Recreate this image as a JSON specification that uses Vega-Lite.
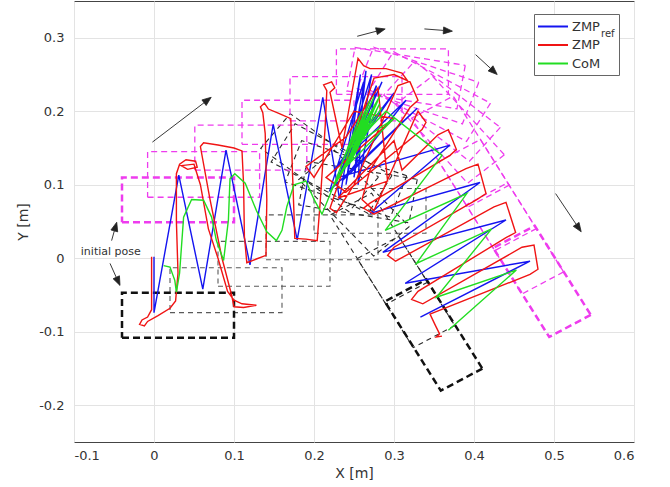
{
  "$schema": "https://vega.github.io/schema/vega-lite/v6.json",
  "width": 560,
  "height": 441,
  "autosize": {"type": "none"},
  "padding": {"left": 74, "top": 1, "right": 36, "bottom": 45},
  "background": "white",
  "config": {
    "font": "DejaVu Sans",
    "view": {"stroke": "#444444", "strokeWidth": 1},
    "axis": {"grid": true, "gridColor": "#e3e3e3", "gridWidth": 1, "domain": false, "ticks": false, "labelFontSize": 13, "labelColor": "#333333", "titleFontSize": 14, "titleFontWeight": "normal", "titleColor": "#333333"}
  },
  "datasets": {
    "feet": [
      {"f":"B1","foot":"R","pose":"end","o":0,"x":-0.04,"y":-0.108},{"f":"B1","foot":"R","pose":"end","o":1,"x":0.1,"y":-0.108},{"f":"B1","foot":"R","pose":"end","o":2,"x":0.1,"y":-0.047},{"f":"B1","foot":"R","pose":"end","o":3,"x":-0.04,"y":-0.047},{"f":"B1","foot":"R","pose":"end","o":4,"x":-0.04,"y":-0.108},
      {"f":"B2","foot":"R","pose":"step","o":0,"x":0.02,"y":-0.074},{"f":"B2","foot":"R","pose":"step","o":1,"x":0.16,"y":-0.074},{"f":"B2","foot":"R","pose":"step","o":2,"x":0.16,"y":-0.013},{"f":"B2","foot":"R","pose":"step","o":3,"x":0.02,"y":-0.013},{"f":"B2","foot":"R","pose":"step","o":4,"x":0.02,"y":-0.074},
      {"f":"B3","foot":"R","pose":"step","o":0,"x":0.08,"y":-0.038},{"f":"B3","foot":"R","pose":"step","o":1,"x":0.22,"y":-0.038},{"f":"B3","foot":"R","pose":"step","o":2,"x":0.22,"y":0.023},{"f":"B3","foot":"R","pose":"step","o":3,"x":0.08,"y":0.023},{"f":"B3","foot":"R","pose":"step","o":4,"x":0.08,"y":-0.038},
      {"f":"B4","foot":"R","pose":"step","o":0,"x":0.14,"y":-0.002},{"f":"B4","foot":"R","pose":"step","o":1,"x":0.28,"y":-0.002},{"f":"B4","foot":"R","pose":"step","o":2,"x":0.28,"y":0.059},{"f":"B4","foot":"R","pose":"step","o":3,"x":0.14,"y":0.059},{"f":"B4","foot":"R","pose":"step","o":4,"x":0.14,"y":-0.002},
      {"f":"B5","foot":"R","pose":"step","o":0,"x":0.2,"y":0.034},{"f":"B5","foot":"R","pose":"step","o":1,"x":0.34,"y":0.034},{"f":"B5","foot":"R","pose":"step","o":2,"x":0.34,"y":0.095},{"f":"B5","foot":"R","pose":"step","o":3,"x":0.2,"y":0.095},{"f":"B5","foot":"R","pose":"step","o":4,"x":0.2,"y":0.034},
      {"f":"B6","foot":"R","pose":"turn","o":0,"x":0.3291,"y":0.1074},{"f":"B6","foot":"R","pose":"turn","o":1,"x":0.3187,"y":0.0483},{"f":"B6","foot":"R","pose":"turn","o":2,"x":0.1809,"y":0.0726},{"f":"B6","foot":"R","pose":"turn","o":3,"x":0.1913,"y":0.1317},{"f":"B6","foot":"R","pose":"turn","o":4,"x":0.3291,"y":0.1074},
      {"f":"B7","foot":"R","pose":"turn","o":0,"x":0.316,"y":0.1123},{"f":"B7","foot":"R","pose":"turn","o":1,"x":0.2955,"y":0.0559},{"f":"B7","foot":"R","pose":"turn","o":2,"x":0.164,"y":0.1038},{"f":"B7","foot":"R","pose":"turn","o":3,"x":0.1845,"y":0.1601},{"f":"B7","foot":"R","pose":"turn","o":4,"x":0.316,"y":0.1123},
      {"f":"B8","foot":"R","pose":"turn","o":0,"x":0.2976,"y":0.113},{"f":"B8","foot":"R","pose":"turn","o":1,"x":0.2676,"y":0.061},{"f":"B8","foot":"R","pose":"turn","o":2,"x":0.1464,"y":0.131},{"f":"B8","foot":"R","pose":"turn","o":3,"x":0.1764,"y":0.183},{"f":"B8","foot":"R","pose":"turn","o":4,"x":0.2976,"y":0.113},
      {"f":"B9","foot":"R","pose":"turn","o":0,"x":0.2806,"y":0.1105},{"f":"B9","foot":"R","pose":"turn","o":1,"x":0.2437,"y":0.0633},{"f":"B9","foot":"R","pose":"turn","o":2,"x":0.1334,"y":0.1495},{"f":"B9","foot":"R","pose":"turn","o":3,"x":0.1703,"y":0.1967},{"f":"B9","foot":"R","pose":"turn","o":4,"x":0.2806,"y":0.1105},
      {"f":"B10","foot":"R","pose":"turn","o":0,"x":0.3191,"y":0.0431},{"f":"B10","foot":"R","pose":"turn","o":1,"x":0.2746,"y":0.0029},{"f":"B10","foot":"R","pose":"turn","o":2,"x":0.1809,"y":0.107},{"f":"B10","foot":"R","pose":"turn","o":3,"x":0.2255,"y":0.1471},{"f":"B10","foot":"R","pose":"turn","o":4,"x":0.3191,"y":0.0431},
      {"f":"B11","foot":"R","pose":"turn","o":0,"x":0.342,"y":-0.0326},{"f":"B11","foot":"R","pose":"turn","o":1,"x":0.29,"y":-0.0626},{"f":"B11","foot":"R","pose":"turn","o":2,"x":0.22,"y":0.0586},{"f":"B11","foot":"R","pose":"turn","o":3,"x":0.272,"y":0.0886},{"f":"B11","foot":"R","pose":"turn","o":4,"x":0.342,"y":-0.0326},
      {"f":"B12","foot":"R","pose":"turn","o":0,"x":0.376,"y":-0.0916},{"f":"B12","foot":"R","pose":"turn","o":1,"x":0.324,"y":-0.1216},{"f":"B12","foot":"R","pose":"turn","o":2,"x":0.254,"y":-0.0004},{"f":"B12","foot":"R","pose":"turn","o":3,"x":0.306,"y":0.0296},{"f":"B12","foot":"R","pose":"turn","o":4,"x":0.376,"y":-0.0916},
      {"f":"B13","foot":"R","pose":"end","o":0,"x":0.4105,"y":-0.1501},{"f":"B13","foot":"R","pose":"end","o":1,"x":0.3585,"y":-0.1801},{"f":"B13","foot":"R","pose":"end","o":2,"x":0.2885,"y":-0.0589},{"f":"B13","foot":"R","pose":"end","o":3,"x":0.3405,"y":-0.0289},{"f":"B13","foot":"R","pose":"end","o":4,"x":0.4105,"y":-0.1501},
      {"f":"R1","foot":"L","pose":"end","o":0,"x":-0.04,"y":0.049},{"f":"R1","foot":"L","pose":"end","o":1,"x":0.1,"y":0.049},{"f":"R1","foot":"L","pose":"end","o":2,"x":0.1,"y":0.11},{"f":"R1","foot":"L","pose":"end","o":3,"x":-0.04,"y":0.11},{"f":"R1","foot":"L","pose":"end","o":4,"x":-0.04,"y":0.049},
      {"f":"R2","foot":"L","pose":"step","o":0,"x":-0.008,"y":0.083},{"f":"R2","foot":"L","pose":"step","o":1,"x":0.132,"y":0.083},{"f":"R2","foot":"L","pose":"step","o":2,"x":0.132,"y":0.145},{"f":"R2","foot":"L","pose":"step","o":3,"x":-0.008,"y":0.145},{"f":"R2","foot":"L","pose":"step","o":4,"x":-0.008,"y":0.083},
      {"f":"R3","foot":"L","pose":"step","o":0,"x":0.051,"y":0.12},{"f":"R3","foot":"L","pose":"step","o":1,"x":0.191,"y":0.12},{"f":"R3","foot":"L","pose":"step","o":2,"x":0.191,"y":0.181},{"f":"R3","foot":"L","pose":"step","o":3,"x":0.051,"y":0.181},{"f":"R3","foot":"L","pose":"step","o":4,"x":0.051,"y":0.12},
      {"f":"R4","foot":"L","pose":"step","o":0,"x":0.11,"y":0.155},{"f":"R4","foot":"L","pose":"step","o":1,"x":0.25,"y":0.155},{"f":"R4","foot":"L","pose":"step","o":2,"x":0.25,"y":0.215},{"f":"R4","foot":"L","pose":"step","o":3,"x":0.11,"y":0.215},{"f":"R4","foot":"L","pose":"step","o":4,"x":0.11,"y":0.155},
      {"f":"R5","foot":"L","pose":"step","o":0,"x":0.17,"y":0.187},{"f":"R5","foot":"L","pose":"step","o":1,"x":0.31,"y":0.187},{"f":"R5","foot":"L","pose":"step","o":2,"x":0.31,"y":0.247},{"f":"R5","foot":"L","pose":"step","o":3,"x":0.17,"y":0.247},{"f":"R5","foot":"L","pose":"step","o":4,"x":0.17,"y":0.187},
      {"f":"R6","foot":"L","pose":"step","o":0,"x":0.228,"y":0.223},{"f":"R6","foot":"L","pose":"step","o":1,"x":0.368,"y":0.223},{"f":"R6","foot":"L","pose":"step","o":2,"x":0.368,"y":0.285},{"f":"R6","foot":"L","pose":"step","o":3,"x":0.228,"y":0.285},{"f":"R6","foot":"L","pose":"step","o":4,"x":0.228,"y":0.223},
      {"f":"R7","foot":"L","pose":"step","o":0,"x":0.3891,"y":0.2624},{"f":"R7","foot":"L","pose":"step","o":1,"x":0.3787,"y":0.2033},{"f":"R7","foot":"L","pose":"step","o":2,"x":0.2409,"y":0.2276},{"f":"R7","foot":"L","pose":"step","o":3,"x":0.2513,"y":0.2867},{"f":"R7","foot":"L","pose":"step","o":4,"x":0.3891,"y":0.2624},
      {"f":"R8","foot":"L","pose":"step","o":0,"x":0.406,"y":0.2393},{"f":"R8","foot":"L","pose":"step","o":1,"x":0.3855,"y":0.1829},{"f":"R8","foot":"L","pose":"step","o":2,"x":0.254,"y":0.2308},{"f":"R8","foot":"L","pose":"step","o":3,"x":0.2745,"y":0.2871},{"f":"R8","foot":"L","pose":"step","o":4,"x":0.406,"y":0.2393},
      {"f":"R9","foot":"L","pose":"step","o":0,"x":0.4206,"y":0.211},{"f":"R9","foot":"L","pose":"step","o":1,"x":0.3906,"y":0.159},{"f":"R9","foot":"L","pose":"step","o":2,"x":0.2694,"y":0.229},{"f":"R9","foot":"L","pose":"step","o":3,"x":0.2994,"y":0.281},{"f":"R9","foot":"L","pose":"step","o":4,"x":0.4206,"y":0.211},
      {"f":"R10","foot":"L","pose":"step","o":0,"x":0.4329,"y":0.178},{"f":"R10","foot":"L","pose":"step","o":1,"x":0.3943,"y":0.132},{"f":"R10","foot":"L","pose":"step","o":2,"x":0.2871,"y":0.222},{"f":"R10","foot":"L","pose":"step","o":3,"x":0.3257,"y":0.268},{"f":"R10","foot":"L","pose":"step","o":4,"x":0.4329,"y":0.178},
      {"f":"R11","foot":"L","pose":"step","o":0,"x":0.438,"y":0.1407},{"f":"R11","foot":"L","pose":"step","o":1,"x":0.392,"y":0.1021},{"f":"R11","foot":"L","pose":"step","o":2,"x":0.302,"y":0.2093},{"f":"R11","foot":"L","pose":"step","o":3,"x":0.348,"y":0.2479},{"f":"R11","foot":"L","pose":"step","o":4,"x":0.438,"y":0.1407},
      {"f":"R12","foot":"L","pose":"step","o":0,"x":0.444,"y":0.0994},{"f":"R12","foot":"L","pose":"step","o":1,"x":0.392,"y":0.0694},{"f":"R12","foot":"L","pose":"step","o":2,"x":0.322,"y":0.1906},{"f":"R12","foot":"L","pose":"step","o":3,"x":0.374,"y":0.2206},{"f":"R12","foot":"L","pose":"step","o":4,"x":0.444,"y":0.0994},
      {"f":"R13","foot":"L","pose":"step","o":0,"x":0.478,"y":0.0404},{"f":"R13","foot":"L","pose":"step","o":1,"x":0.426,"y":0.0104},{"f":"R13","foot":"L","pose":"step","o":2,"x":0.356,"y":0.1316},{"f":"R13","foot":"L","pose":"step","o":3,"x":0.408,"y":0.1616},{"f":"R13","foot":"L","pose":"step","o":4,"x":0.478,"y":0.0404},
      {"f":"R14","foot":"L","pose":"step","o":0,"x":0.512,"y":-0.0186},{"f":"R14","foot":"L","pose":"step","o":1,"x":0.46,"y":-0.0486},{"f":"R14","foot":"L","pose":"step","o":2,"x":0.39,"y":0.0726},{"f":"R14","foot":"L","pose":"step","o":3,"x":0.442,"y":0.1026},{"f":"R14","foot":"L","pose":"step","o":4,"x":0.512,"y":-0.0186},
      {"f":"R15","foot":"L","pose":"end","o":0,"x":0.546,"y":-0.0771},{"f":"R15","foot":"L","pose":"end","o":1,"x":0.494,"y":-0.1071},{"f":"R15","foot":"L","pose":"end","o":2,"x":0.424,"y":0.0141},{"f":"R15","foot":"L","pose":"end","o":3,"x":0.476,"y":0.0441},{"f":"R15","foot":"L","pose":"end","o":4,"x":0.546,"y":-0.0771}
    ],
    "traj": [
      {"s":"ZMP_ref","o":0,"x":0,"y":0.002},{"s":"ZMP_ref","o":1,"x":0,"y":-0.074},{"s":"ZMP_ref","o":2,"x":0.031,"y":0.113},{"s":"ZMP_ref","o":3,"x":0.061,"y":-0.042},{"s":"ZMP_ref","o":4,"x":0.09,"y":0.147},{"s":"ZMP_ref","o":5,"x":0.12,"y":-0.009},{"s":"ZMP_ref","o":6,"x":0.149,"y":0.182},{"s":"ZMP_ref","o":7,"x":0.179,"y":0.025},{"s":"ZMP_ref","o":8,"x":0.211,"y":0.219},{"s":"ZMP_ref","o":9,"x":0.232,"y":0.08},{"s":"ZMP_ref","o":10,"x":0.258,"y":0.25},{"s":"ZMP_ref","o":11,"x":0.24,"y":0.1},{"s":"ZMP_ref","o":12,"x":0.265,"y":0.255},{"s":"ZMP_ref","o":13,"x":0.25,"y":0.11},{"s":"ZMP_ref","o":14,"x":0.272,"y":0.25},{"s":"ZMP_ref","o":15,"x":0.235,"y":0.12},{"s":"ZMP_ref","o":16,"x":0.285,"y":0.24},{"s":"ZMP_ref","o":17,"x":0.24,"y":0.13},{"s":"ZMP_ref","o":18,"x":0.3,"y":0.225},{"s":"ZMP_ref","o":19,"x":0.225,"y":0.12},{"s":"ZMP_ref","o":20,"x":0.315,"y":0.215},{"s":"ZMP_ref","o":21,"x":0.235,"y":0.105},{"s":"ZMP_ref","o":22,"x":0.329,"y":0.204},{"s":"ZMP_ref","o":23,"x":0.22,"y":0.093},{"s":"ZMP_ref","o":24,"x":0.262,"y":0.24},{"s":"ZMP_ref","o":25,"x":0.255,"y":0.1},{"s":"ZMP_ref","o":26,"x":0.278,"y":0.235},{"s":"ZMP_ref","o":27,"x":0.23,"y":0.11},{"s":"ZMP_ref","o":28,"x":0.37,"y":0.154},{"s":"ZMP_ref","o":29,"x":0.27,"y":0.061},{"s":"ZMP_ref","o":30,"x":0.4075,"y":0.103},{"s":"ZMP_ref","o":31,"x":0.286,"y":0.008},{"s":"ZMP_ref","o":32,"x":0.44,"y":0.052},{"s":"ZMP_ref","o":33,"x":0.314,"y":-0.034},{"s":"ZMP_ref","o":34,"x":0.47,"y":-0.004},{"s":"ZMP_ref","o":35,"x":0.333,"y":-0.08},
      {"s":"ZMP","o":0,"x":-0.003,"y":0.002},{"s":"ZMP","o":1,"x":-0.003,"y":-0.07},{"s":"ZMP","o":2,"x":-0.008,"y":-0.08},{"s":"ZMP","o":3,"x":-0.015,"y":-0.084},{"s":"ZMP","o":4,"x":-0.018,"y":-0.09},{"s":"ZMP","o":5,"x":-0.012,"y":-0.092},{"s":"ZMP","o":6,"x":-0.008,"y":-0.086},{"s":"ZMP","o":7,"x":0.005,"y":-0.078},{"s":"ZMP","o":8,"x":0.02,"y":-0.068},{"s":"ZMP","o":9,"x":0.027,"y":-0.058},{"s":"ZMP","o":10,"x":0.03,"y":-0.02},{"s":"ZMP","o":11,"x":0.028,"y":0.05},{"s":"ZMP","o":12,"x":0.028,"y":0.115},{"s":"ZMP","o":13,"x":0.032,"y":0.128},{"s":"ZMP","o":14,"x":0.04,"y":0.134},{"s":"ZMP","o":15,"x":0.052,"y":0.132},{"s":"ZMP","o":16,"x":0.054,"y":0.124},{"s":"ZMP","o":17,"x":0.042,"y":0.121},{"s":"ZMP","o":18,"x":0.034,"y":0.126},{"s":"ZMP","o":19,"x":0.05,"y":0.128},{"s":"ZMP","o":20,"x":0.058,"y":0.1},{"s":"ZMP","o":21,"x":0.068,"y":0.04},{"s":"ZMP","o":22,"x":0.08,"y":0.0},{"s":"ZMP","o":23,"x":0.092,"y":-0.045},{"s":"ZMP","o":24,"x":0.1,"y":-0.057},{"s":"ZMP","o":25,"x":0.11,"y":-0.062},{"s":"ZMP","o":26,"x":0.128,"y":-0.064},{"s":"ZMP","o":27,"x":0.112,"y":-0.067},{"s":"ZMP","o":28,"x":0.1,"y":-0.066},{"s":"ZMP","o":29,"x":0.097,"y":-0.05},{"s":"ZMP","o":30,"x":0.085,"y":0.0},{"s":"ZMP","o":31,"x":0.07,"y":0.08},{"s":"ZMP","o":32,"x":0.058,"y":0.152},{"s":"ZMP","o":33,"x":0.062,"y":0.157},{"s":"ZMP","o":34,"x":0.08,"y":0.154},{"s":"ZMP","o":35,"x":0.1,"y":0.15},{"s":"ZMP","o":36,"x":0.11,"y":0.146},{"s":"ZMP","o":37,"x":0.112,"y":0.1},{"s":"ZMP","o":38,"x":0.113,"y":0.03},{"s":"ZMP","o":39,"x":0.116,"y":-0.006},{"s":"ZMP","o":40,"x":0.128,"y":-0.001},{"s":"ZMP","o":41,"x":0.14,"y":0.004},{"s":"ZMP","o":42,"x":0.141,"y":0.08},{"s":"ZMP","o":43,"x":0.139,"y":0.17},{"s":"ZMP","o":44,"x":0.136,"y":0.198},{"s":"ZMP","o":45,"x":0.133,"y":0.206},{"s":"ZMP","o":46,"x":0.138,"y":0.211},{"s":"ZMP","o":47,"x":0.143,"y":0.203},{"s":"ZMP","o":48,"x":0.156,"y":0.197},{"s":"ZMP","o":49,"x":0.171,"y":0.19},{"s":"ZMP","o":50,"x":0.173,"y":0.12},{"s":"ZMP","o":51,"x":0.175,"y":0.06},{"s":"ZMP","o":52,"x":0.176,"y":0.027},{"s":"ZMP","o":53,"x":0.19,"y":0.026},{"s":"ZMP","o":54,"x":0.204,"y":0.024},{"s":"ZMP","o":55,"x":0.208,"y":0.08},{"s":"ZMP","o":56,"x":0.214,"y":0.18},{"s":"ZMP","o":57,"x":0.216,"y":0.228},{"s":"ZMP","o":58,"x":0.212,"y":0.236},{"s":"ZMP","o":59,"x":0.222,"y":0.24},{"s":"ZMP","o":60,"x":0.226,"y":0.232},{"s":"ZMP","o":61,"x":0.22,"y":0.226},{"s":"ZMP","o":62,"x":0.235,"y":0.15},{"s":"ZMP","o":63,"x":0.255,"y":0.272},{"s":"ZMP","o":64,"x":0.262,"y":0.262},{"s":"ZMP","o":65,"x":0.27,"y":0.258},{"s":"ZMP","o":66,"x":0.29,"y":0.258},{"s":"ZMP","o":67,"x":0.31,"y":0.252},{"s":"ZMP","o":68,"x":0.318,"y":0.24},{"s":"ZMP","o":69,"x":0.305,"y":0.235},{"s":"ZMP","o":70,"x":0.25,"y":0.1},{"s":"ZMP","o":71,"x":0.228,"y":0.062},{"s":"ZMP","o":72,"x":0.22,"y":0.068},{"s":"ZMP","o":73,"x":0.275,"y":0.245},{"s":"ZMP","o":74,"x":0.3,"y":0.25},{"s":"ZMP","o":75,"x":0.32,"y":0.24},{"s":"ZMP","o":76,"x":0.33,"y":0.215},{"s":"ZMP","o":77,"x":0.32,"y":0.205},{"s":"ZMP","o":78,"x":0.27,"y":0.12},{"s":"ZMP","o":79,"x":0.26,"y":0.08},{"s":"ZMP","o":80,"x":0.275,"y":0.065},{"s":"ZMP","o":81,"x":0.33,"y":0.2},{"s":"ZMP","o":82,"x":0.34,"y":0.185},{"s":"ZMP","o":83,"x":0.335,"y":0.175},{"s":"ZMP","o":84,"x":0.24,"y":0.09},{"s":"ZMP","o":85,"x":0.215,"y":0.11},{"s":"ZMP","o":86,"x":0.3,"y":0.19},{"s":"ZMP","o":87,"x":0.25,"y":0.2},{"s":"ZMP","o":88,"x":0.2,"y":0.11},{"s":"ZMP","o":89,"x":0.19,"y":0.125},{"s":"ZMP","o":90,"x":0.24,"y":0.165},{"s":"ZMP","o":91,"x":0.28,"y":0.232},{"s":"ZMP","o":92,"x":0.292,"y":0.105},{"s":"ZMP","o":93,"x":0.23,"y":0.082},{"s":"ZMP","o":94,"x":0.3,"y":0.16},{"s":"ZMP","o":95,"x":0.31,"y":0.12},{"s":"ZMP","o":96,"x":0.355,"y":0.168},{"s":"ZMP","o":97,"x":0.368,"y":0.175},{"s":"ZMP","o":98,"x":0.378,"y":0.148},{"s":"ZMP","o":99,"x":0.37,"y":0.14},{"s":"ZMP","o":100,"x":0.27,"y":0.075},{"s":"ZMP","o":101,"x":0.262,"y":0.068},{"s":"ZMP","o":102,"x":0.275,"y":0.06},{"s":"ZMP","o":103,"x":0.39,"y":0.122},{"s":"ZMP","o":104,"x":0.405,"y":0.128},{"s":"ZMP","o":105,"x":0.415,"y":0.088},{"s":"ZMP","o":106,"x":0.404,"y":0.08},{"s":"ZMP","o":107,"x":0.3,"y":0.015},{"s":"ZMP","o":108,"x":0.292,"y":0.004},{"s":"ZMP","o":109,"x":0.302,"y":-0.004},{"s":"ZMP","o":110,"x":0.425,"y":0.07},{"s":"ZMP","o":111,"x":0.44,"y":0.076},{"s":"ZMP","o":112,"x":0.452,"y":0.035},{"s":"ZMP","o":113,"x":0.44,"y":0.028},{"s":"ZMP","o":114,"x":0.33,"y":-0.045},{"s":"ZMP","o":115,"x":0.322,"y":-0.056},{"s":"ZMP","o":116,"x":0.336,"y":-0.062},{"s":"ZMP","o":117,"x":0.46,"y":0.015},{"s":"ZMP","o":118,"x":0.475,"y":0.018},{"s":"ZMP","o":119,"x":0.48,"y":-0.015},{"s":"ZMP","o":120,"x":0.47,"y":-0.022},{"s":"ZMP","o":121,"x":0.345,"y":-0.076},{"s":"ZMP","o":122,"x":0.352,"y":-0.092},{"s":"ZMP","o":123,"x":0.357,"y":-0.103},{"s":"ZMP","o":124,"x":0.353,"y":-0.107},{"s":"ZMP","o":125,"x":0.36,"y":-0.106},
      {"s":"CoM","o":0,"x":0.012,"y":-0.01},{"s":"CoM","o":1,"x":0.02,"y":-0.012},{"s":"CoM","o":2,"x":0.026,"y":-0.03},{"s":"CoM","o":3,"x":0.028,"y":-0.046},{"s":"CoM","o":4,"x":0.032,"y":-0.02},{"s":"CoM","o":5,"x":0.037,"y":0.056},{"s":"CoM","o":6,"x":0.047,"y":0.08},{"s":"CoM","o":7,"x":0.062,"y":0.079},{"s":"CoM","o":8,"x":0.072,"y":0.056},{"s":"CoM","o":9,"x":0.078,"y":0.024},{"s":"CoM","o":10,"x":0.087,"y":-0.003},{"s":"CoM","o":11,"x":0.093,"y":0.052},{"s":"CoM","o":12,"x":0.095,"y":0.108},{"s":"CoM","o":13,"x":0.101,"y":0.115},{"s":"CoM","o":14,"x":0.114,"y":0.102},{"s":"CoM","o":15,"x":0.128,"y":0.065},{"s":"CoM","o":16,"x":0.141,"y":0.036},{"s":"CoM","o":17,"x":0.153,"y":0.024},{"s":"CoM","o":18,"x":0.16,"y":0.038},{"s":"CoM","o":19,"x":0.166,"y":0.07},{"s":"CoM","o":20,"x":0.175,"y":0.1},{"s":"CoM","o":21,"x":0.19,"y":0.105},{"s":"CoM","o":22,"x":0.2,"y":0.08},{"s":"CoM","o":23,"x":0.21,"y":0.06},{"s":"CoM","o":24,"x":0.225,"y":0.1},{"s":"CoM","o":25,"x":0.26,"y":0.2},{"s":"CoM","o":26,"x":0.235,"y":0.13},{"s":"CoM","o":27,"x":0.27,"y":0.215},{"s":"CoM","o":28,"x":0.24,"y":0.135},{"s":"CoM","o":29,"x":0.275,"y":0.22},{"s":"CoM","o":30,"x":0.245,"y":0.14},{"s":"CoM","o":31,"x":0.28,"y":0.215},{"s":"CoM","o":32,"x":0.25,"y":0.14},{"s":"CoM","o":33,"x":0.282,"y":0.21},{"s":"CoM","o":34,"x":0.245,"y":0.13},{"s":"CoM","o":35,"x":0.278,"y":0.2},{"s":"CoM","o":36,"x":0.24,"y":0.125},{"s":"CoM","o":37,"x":0.27,"y":0.19},{"s":"CoM","o":38,"x":0.22,"y":0.09},{"s":"CoM","o":39,"x":0.285,"y":0.205},{"s":"CoM","o":40,"x":0.236,"y":0.12},{"s":"CoM","o":41,"x":0.3,"y":0.19},{"s":"CoM","o":42,"x":0.245,"y":0.15},{"s":"CoM","o":43,"x":0.283,"y":0.222},{"s":"CoM","o":44,"x":0.25,"y":0.155},{"s":"CoM","o":45,"x":0.29,"y":0.2},{"s":"CoM","o":46,"x":0.36,"y":0.14},{"s":"CoM","o":47,"x":0.289,"y":0.038},{"s":"CoM","o":48,"x":0.391,"y":0.088},{"s":"CoM","o":49,"x":0.328,"y":-0.007},{"s":"CoM","o":50,"x":0.422,"y":0.04},{"s":"CoM","o":51,"x":0.353,"y":-0.053},{"s":"CoM","o":52,"x":0.453,"y":-0.016},{"s":"CoM","o":53,"x":0.368,"y":-0.098}
    ],
    "arrows": [
      {"a":"a1","part":"shaft","o":0,"x":-0.002,"y":0.158},{"a":"a1","part":"shaft","o":1,"x":0.0626,"y":0.2116},
      {"a":"a1h","part":"head","o":0,"x":0.0715,"y":0.219},{"a":"a1h","part":"head","o":1,"x":0.0652,"y":0.2078},{"a":"a1h","part":"head","o":2,"x":0.0599,"y":0.2154},{"a":"a1h","part":"head","o":3,"x":0.0715,"y":0.219},
      {"a":"a2","part":"shaft","o":0,"x":0.254,"y":0.302},{"a":"a2","part":"shaft","o":1,"x":0.2781,"y":0.3089},
      {"a":"a2h","part":"head","o":0,"x":0.289,"y":0.312},{"a":"a2h","part":"head","o":1,"x":0.2792,"y":0.3043},{"a":"a2h","part":"head","o":2,"x":0.277,"y":0.3135},{"a":"a2h","part":"head","o":3,"x":0.289,"y":0.312},
      {"a":"a3","part":"shaft","o":0,"x":0.338,"y":0.312},{"a":"a3","part":"shaft","o":1,"x":0.3618,"y":0.31},
      {"a":"a3h","part":"head","o":0,"x":0.373,"y":0.309},{"a":"a3h","part":"head","o":1,"x":0.3615,"y":0.3052},{"a":"a3h","part":"head","o":2,"x":0.3621,"y":0.3147},{"a":"a3h","part":"head","o":3,"x":0.373,"y":0.309},
      {"a":"a4","part":"shaft","o":0,"x":0.402,"y":0.277},{"a":"a4","part":"shaft","o":1,"x":0.4207,"y":0.2583},
      {"a":"a4h","part":"head","o":0,"x":0.429,"y":0.25},{"a":"a4h","part":"head","o":1,"x":0.4177,"y":0.2548},{"a":"a4h","part":"head","o":2,"x":0.4237,"y":0.2618},{"a":"a4h","part":"head","o":3,"x":0.429,"y":0.25},
      {"a":"a5","part":"shaft","o":0,"x":0.502,"y":0.088},{"a":"a5","part":"shaft","o":1,"x":0.5277,"y":0.0462},
      {"a":"a5h","part":"head","o":0,"x":0.534,"y":0.036},{"a":"a5h","part":"head","o":1,"x":0.5241,"y":0.0435},{"a":"a5h","part":"head","o":2,"x":0.5313,"y":0.0488},{"a":"a5h","part":"head","o":3,"x":0.534,"y":0.036},
      {"a":"a6","part":"shaft","o":0,"x":-0.053,"y":0.024},{"a":"a6","part":"shaft","o":1,"x":-0.0496,"y":0.0372},
      {"a":"a6h","part":"head","o":0,"x":-0.0466,"y":0.049},{"a":"a6h","part":"head","o":1,"x":-0.0454,"y":0.0359},{"a":"a6h","part":"head","o":2,"x":-0.0538,"y":0.0385},{"a":"a6h","part":"head","o":3,"x":-0.0466,"y":0.049},
      {"a":"a7","part":"shaft","o":0,"x":-0.055,"y":-0.007},{"a":"a7","part":"shaft","o":1,"x":-0.0472,"y":-0.0259},
      {"a":"a7h","part":"head","o":0,"x":-0.0425,"y":-0.037},{"a":"a7h","part":"head","o":1,"x":-0.0511,"y":-0.0279},{"a":"a7h","part":"head","o":2,"x":-0.0432,"y":-0.0239},{"a":"a7h","part":"head","o":3,"x":-0.0425,"y":-0.037}
    ],
    "notes": [
      {"t":"initial pose","x":-0.054,"y":0.008}
    ]
  },
  "encoding": {
    "x": {"field": "x", "type": "quantitative", "scale": {"domain": [-0.1, 0.6], "nice": false, "zero": false},
      "axis": {"values": [-0.1, 0, 0.1, 0.2, 0.3, 0.4, 0.5, 0.6], "title": "X [m]", "labelPadding": 7, "titlePadding": 4,
        "labelExpr": "abs(datum.value) < 1e-9 ? '0' : (datum.value < 0 ? '-' : '') + format(abs(datum.value), '.1f')"}},
    "y": {"field": "y", "type": "quantitative", "scale": {"domain": [-0.25, 0.35], "nice": false, "zero": false},
      "axis": {"values": [-0.2, -0.1, 0, 0.1, 0.2, 0.3], "title": "Y [m]", "labelPadding": 10, "titlePadding": 8,
        "labelExpr": "abs(datum.value) < 1e-9 ? '0' : (datum.value < 0 ? '-' : '') + format(abs(datum.value), '.1f')"}}
  },
  "layer": [
    {"data": {"name": "feet"}, "transform": [{"filter": "datum.foot == 'R' && datum.pose == 'step'"}],
     "mark": {"type": "line", "color": "#5a5a5a", "strokeWidth": 1.1, "strokeDash": [5, 4]},
     "encoding": {"detail": {"field": "f"}, "order": {"field": "o", "type": "quantitative"}}},
    {"data": {"name": "feet"}, "transform": [{"filter": "datum.foot == 'R' && datum.pose == 'turn'"}],
     "mark": {"type": "line", "color": "#2a2a2a", "strokeWidth": 1.1, "strokeDash": [5, 4]},
     "encoding": {"detail": {"field": "f"}, "order": {"field": "o", "type": "quantitative"}}},
    {"data": {"name": "feet"}, "transform": [{"filter": "datum.foot == 'R' && datum.pose == 'end'"}],
     "mark": {"type": "line", "color": "#111111", "strokeWidth": 2.5, "strokeDash": [7, 4]},
     "encoding": {"detail": {"field": "f"}, "order": {"field": "o", "type": "quantitative"}}},
    {"data": {"name": "feet"}, "transform": [{"filter": "datum.foot == 'L' && datum.pose == 'step'"}],
     "mark": {"type": "line", "color": "#ee3cee", "strokeWidth": 1.3, "strokeDash": [6, 4]},
     "encoding": {"detail": {"field": "f"}, "order": {"field": "o", "type": "quantitative"}}},
    {"data": {"name": "feet"}, "transform": [{"filter": "datum.foot == 'L' && datum.pose == 'end'"}],
     "mark": {"type": "line", "color": "#ee3cee", "strokeWidth": 2.5, "strokeDash": [7, 4]},
     "encoding": {"detail": {"field": "f"}, "order": {"field": "o", "type": "quantitative"}}},
    {"data": {"name": "traj"},
     "mark": {"type": "line", "strokeWidth": 1.4},
     "encoding": {
       "color": {"field": "s", "type": "nominal",
         "scale": {"domain": ["ZMP_ref", "ZMP", "CoM"], "range": ["#1414f0", "#f01414", "#22dd22"]},
         "legend": {"orient": "none", "legendX": 460, "legendY": 13, "symbolType": "M-1.133,0H2.867", "symbolSize": 225, "symbolStrokeWidth": 2, "labelFontSize": 13, "labelColor": "#333333", "padding": 4, "strokeColor": "#666666", "fillColor": "white", "rowPadding": 2.5, "labelOffset": 17,
           "title": ["\u00a0", "ref"], "titleOrient": "right", "titleAnchor": "start", "titleBaseline": "top", "titleFontSize": 10, "titleLineHeight": 11, "titleFontWeight": "normal", "titleColor": "#333333", "titlePadding": 1,
           "labelExpr": "datum.label == 'ZMP_ref' ? 'ZMP' : datum.label"}},
       "order": {"field": "o", "type": "quantitative"}}},
    {"data": {"name": "arrows"}, "transform": [{"filter": "datum.part == 'shaft'"}],
     "mark": {"type": "line", "color": "#222222", "strokeWidth": 0.9},
     "encoding": {"detail": {"field": "a"}, "order": {"field": "o", "type": "quantitative"}}},
    {"data": {"name": "arrows"}, "transform": [{"filter": "datum.part == 'head'"}],
     "mark": {"type": "line", "color": "#222222", "fill": "#222222", "strokeWidth": 0.8},
     "encoding": {"detail": {"field": "a"}, "order": {"field": "o", "type": "quantitative"}}},
    {"data": {"name": "notes"},
     "mark": {"type": "text", "fontSize": 11, "color": "#333333", "align": "center", "baseline": "middle"},
     "encoding": {"text": {"field": "t"}}}
  ]
}
